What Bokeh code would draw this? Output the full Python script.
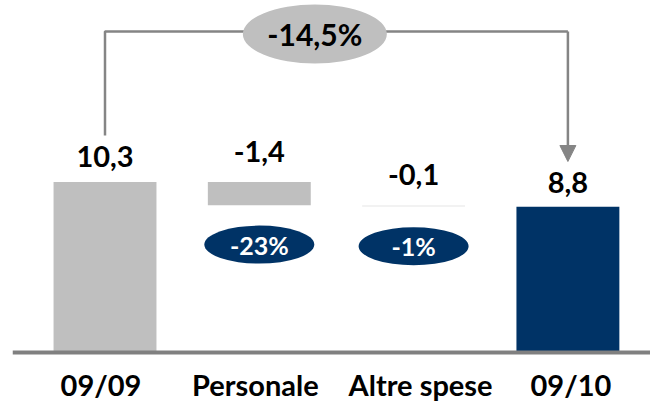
from bokeh.plotting import figure
from bokeh.models import Range1d, Arrow, NormalHead, Span
from bokeh.core.properties import value
from bokeh.embed import file_html
from bokeh.resources import INLINE

# ---- data ----
categories = ["09/09", "Personale", "Altre spese", "09/10"]
values = [10.3, -1.4, -0.1, 8.8]
kinds = ["total", "delta", "delta", "total"]
pct_labels = ["", "-23%", "-1%", ""]
total_change = "-14,5%"

# ---- styles ----
GRAY = "#bfbfbf"
LIGHT = "#eeeeee"
BLUE = "#003366"
LINE = "#858585"
FONT = value("Lato")
label_center_px = [26, 31, 31, 24]
cat_dx_px = [-4, -4, 7, 3]

# waterfall geometry from the data
xs, bottoms, tops, colors, ends = [], [], [], [], []
running = 0.0
for i, (v, k) in enumerate(zip(values, kinds)):
    xs.append(i + 0.5)
    if k == "total":
        bottoms.append(0.0)
        tops.append(v)
        running = v
        colors.append(BLUE if i == len(values) - 1 else GRAY)
    else:
        bottoms.append(running + v)
        tops.append(running)
        running = running + v
        colors.append(GRAY if abs(v) >= 1 else LIGHT)
    ends.append(running)

value_labels = [f"{v:.1f}".replace(".", ",") for v in values]

p = figure(width=650, height=405,
           x_range=Range1d(-0.0995, 4.0353), y_range=Range1d(-3.2024, 21.269),
           output_backend="svg", toolbar_location=None,
           x_axis_location=None, y_axis_location=None,
           min_border_left=12, min_border_right=0, min_border_top=0,
           min_border_bottom=0)
p.outline_line_color = None
p.xgrid.grid_line_color = None
p.ygrid.grid_line_color = None
p.background_fill_color = "white"
p.border_fill_color = "white"

# bars
p.vbar(x=xs, bottom=bottoms, top=tops, width=0.667, fill_color=colors, line_color=None)

# baseline (category axis line)
p.add_layout(Span(location=0, dimension="width", line_color="#808080", line_width=4))

# category labels
p.text(x=xs, y=[0] * len(xs), text=categories, x_offset=cat_dx_px, y_offset=32,
       text_font=FONT, text_font_style="bold", text_font_size="29px",
       text_align="center", text_baseline="middle", text_color="black")

# value labels
p.text(x=xs, y=tops, text=value_labels, y_offset=[-g for g in label_center_px],
       text_font=FONT, text_font_style="bold", text_font_size="29px",
       text_align="center", text_baseline="middle", text_color="black")

# percentage ovals under delta bars
oi = [i for i, t in enumerate(pct_labels) if t]
ox = [xs[i] for i in oi]
oy = [ends[i] - 2.38 for i in oi]
ot = [pct_labels[i] for i in oi]
p.ellipse(x=ox, y=oy, width=110, height=38, width_units="screen", height_units="screen",
          fill_color=BLUE, line_color=None)
p.text(x=ox, y=oy, text=ot, text_font=FONT, text_font_style="bold", text_font_size="25px",
       text_align="center", text_baseline="middle", text_color="white")

# connector from first to last total
x0, x3 = xs[0], xs[-1]
y_conn = 19.396
p.line(x=[x0, x0, x3], y=[tops[0] + 2.81, y_conn, y_conn], line_color=LINE, line_width=2.5)
p.add_layout(Arrow(end=NormalHead(size=16, fill_color=LINE, line_color=LINE),
                   x_start=x3, y_start=y_conn, x_end=x3, y_end=tops[-1] + 2.74,
                   line_color=LINE, line_width=2.5))
ex = (x0 + x3) / 2 - 0.14
ey = 19.245
p.ellipse(x=[ex], y=[ey], width=144, height=59, width_units="screen", height_units="screen",
          fill_color=GRAY, line_color=None)
p.text(x=[ex], y=[ey], text=[total_change], text_font=FONT, text_font_style="bold",
       text_font_size="30px", text_align="center", text_baseline="middle", text_color="black")

open("out.html", "w").write(file_html(p, INLINE))
